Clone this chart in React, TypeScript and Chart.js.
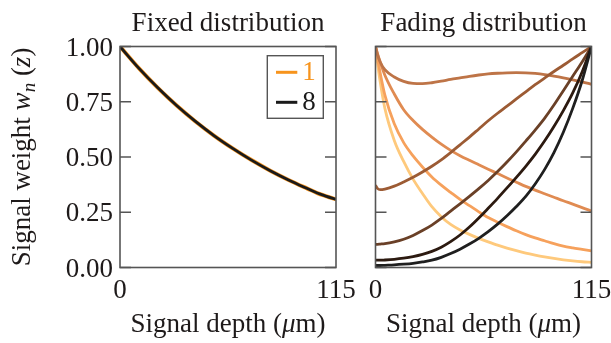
import React, { useEffect, useRef } from 'react';
import { Chart, registerables } from 'chart.js';

Chart.register(...registerables);

const FONT = '"Liberation Serif", "Times New Roman", serif';
const TEXT = '#1e1a1a';
const FRAME = '#555555';
const FS = 27;

// ---- data ----
const yTicks = [0, 0.25, 0.5, 0.75, 1];
const yTickLabels = ['0.00', '0.25', '0.50', '0.75', '1.00'];
const xTicks = [0, 115];
const xTickLabels = ['0', '115'];

const fixedDepth = [0, 10, 20, 30, 40, 50, 60, 70, 80, 90, 100, 105, 110, 115];
const fixedWeight1 = [1, 0.902, 0.814, 0.734, 0.662, 0.597, 0.539, 0.486, 0.438, 0.395, 0.356, 0.337, 0.322, 0.308];
const fixedWeight8 = [1, 0.902, 0.814, 0.734, 0.662, 0.597, 0.539, 0.486, 0.438, 0.395, 0.356, 0.337, 0.322, 0.308];
const fixedLabels = ['1', '8'];
const fixedColors = ['#f7941d', '#1a1a1a'];

const fadingDepth = [0, 1, 2.5, 5, 10, 15, 20, 25, 30, 35, 40, 45, 50, 55, 60, 65, 70, 75, 80, 85, 90, 95, 100, 105, 110, 115];
const fading1 = [1, 0.93, 0.84, 0.72, 0.575, 0.48, 0.4, 0.335, 0.275, 0.23, 0.195, 0.17, 0.15, 0.132, 0.116, 0.101, 0.088, 0.076, 0.065, 0.056, 0.048, 0.041, 0.035, 0.03, 0.026, 0.023];
const fading2 = [1, 0.95, 0.88, 0.78, 0.65, 0.565, 0.505, 0.455, 0.41, 0.373, 0.34, 0.308, 0.28, 0.252, 0.226, 0.205, 0.185, 0.166, 0.149, 0.134, 0.121, 0.108, 0.097, 0.089, 0.082, 0.075];
const fading3 = [1, 0.97, 0.93, 0.87, 0.785, 0.714, 0.665, 0.625, 0.59, 0.558, 0.53, 0.506, 0.485, 0.465, 0.445, 0.425, 0.405, 0.386, 0.367, 0.35, 0.334, 0.318, 0.302, 0.287, 0.271, 0.256];
const fading4 = [1, 0.965, 0.93, 0.895, 0.862, 0.842, 0.833, 0.832, 0.836, 0.843, 0.851, 0.858, 0.865, 0.871, 0.876, 0.879, 0.881, 0.882, 0.881, 0.878, 0.873, 0.866, 0.858, 0.849, 0.84, 0.829];
const fading5 = [0.372, 0.358, 0.352, 0.355, 0.368, 0.387, 0.408, 0.432, 0.458, 0.487, 0.52, 0.555, 0.59, 0.627, 0.664, 0.698, 0.73, 0.763, 0.795, 0.827, 0.857, 0.887, 0.915, 0.944, 0.972, 1];
const fading6 = [0.105, 0.105, 0.106, 0.108, 0.116, 0.128, 0.145, 0.167, 0.192, 0.222, 0.255, 0.288, 0.322, 0.357, 0.394, 0.434, 0.477, 0.523, 0.572, 0.622, 0.675, 0.735, 0.8, 0.865, 0.93, 1];
const fading7 = [0.033, 0.033, 0.033, 0.034, 0.037, 0.042, 0.049, 0.059, 0.073, 0.092, 0.117, 0.147, 0.183, 0.224, 0.268, 0.313, 0.36, 0.408, 0.458, 0.512, 0.572, 0.638, 0.71, 0.79, 0.885, 1];
const fading8 = [0.009, 0.009, 0.009, 0.01, 0.012, 0.015, 0.019, 0.025, 0.033, 0.046, 0.063, 0.083, 0.106, 0.132, 0.162, 0.196, 0.234, 0.276, 0.322, 0.378, 0.443, 0.52, 0.612, 0.72, 0.845, 1];
const fadingSeries = [fading1, fading2, fading3, fading4, fading5, fading6, fading7, fading8];
const fadingColors = ['#fec97c', '#f6a15c', '#e08b52', '#be7447', '#9c5b34', '#6a4027', '#2c1a10', '#1f1f1f'];

const xTitle = ['Signal depth (', 'μ', 'm)'];
const yTitle = ['Signal weight ', 'w', 'n', ' (', 'z', ')'];

type PanelCfg = {
  title: string;
  yLabels: boolean;
  yTitle: boolean;
  legend: boolean;
};

function decorPlugin(cfg: PanelCfg) {
  return {
    id: 'decor',
    afterDraw(chart: any) {
      const ctx = chart.ctx as CanvasRenderingContext2D;
      const a = chart.chartArea;
      const xs = chart.scales.x;
      const ys = chart.scales.y;
      ctx.save();
      // frame
      ctx.strokeStyle = FRAME;
      ctx.lineWidth = 1.6;
      ctx.strokeRect(a.left, a.top, a.right - a.left, a.bottom - a.top);
      // inward ticks on left and right
      ctx.beginPath();
      for (const v of yTicks) {
        const py = ys.getPixelForValue(v);
        ctx.moveTo(a.left, py);
        ctx.lineTo(a.left + 11, py);
        ctx.moveTo(a.right, py);
        ctx.lineTo(a.right - 11, py);
      }
      ctx.stroke();

      ctx.fillStyle = TEXT;
      ctx.font = `${FS}px ${FONT}`;
      // title
      ctx.textAlign = 'center';
      ctx.textBaseline = 'alphabetic';
      ctx.fillText(cfg.title, (a.left + a.right) / 2, 31);
      // x tick labels
      xTicks.forEach((v, i) => {
        ctx.fillText(xTickLabels[i], xs.getPixelForValue(v), 298);
      });
      // y tick labels
      if (cfg.yLabels) {
        ctx.textAlign = 'right';
        yTicks.forEach((v, i) => {
          ctx.fillText(yTickLabels[i], a.left - 7, ys.getPixelForValue(v) + 9);
        });
      }
      // x title
      ctx.textAlign = 'left';
      const segX = [
        { t: xTitle[0], f: `${FS}px ${FONT}` },
        { t: xTitle[1], f: `italic ${FS}px ${FONT}` },
        { t: xTitle[2], f: `${FS}px ${FONT}` },
      ];
      let tw = 0;
      for (const s of segX) { ctx.font = s.f; tw += ctx.measureText(s.t).width; }
      let cx = (a.left + a.right) / 2 - tw / 2;
      for (const s of segX) { ctx.font = s.f; ctx.fillText(s.t, cx, 332); cx += ctx.measureText(s.t).width; }

      // y title
      if (cfg.yTitle) {
        const segY = [
          { t: yTitle[0], f: `${FS}px ${FONT}`, dy: 0 },
          { t: yTitle[1], f: `italic ${FS}px ${FONT}`, dy: 0 },
          { t: yTitle[2], f: `italic 19px ${FONT}`, dy: 5 },
          { t: yTitle[3], f: `${FS}px ${FONT}`, dy: 0 },
          { t: yTitle[4], f: `italic ${FS}px ${FONT}`, dy: 0 },
          { t: yTitle[5], f: `${FS}px ${FONT}`, dy: 0 },
        ];
        let w = 0;
        for (const s of segY) { ctx.font = s.f; w += ctx.measureText(s.t).width; }
        ctx.save();
        ctx.translate(30, (a.top + a.bottom) / 2);
        ctx.rotate(-Math.PI / 2);
        let px = -w / 2;
        for (const s of segY) { ctx.font = s.f; ctx.fillText(s.t, px, s.dy); px += ctx.measureText(s.t).width; }
        ctx.restore();
      }

      // legend
      if (cfg.legend) {
        const bx = a.right - 12.7 - 56;
        const by = a.top + 9.2;
        ctx.strokeStyle = FRAME;
        ctx.lineWidth = 1.4;
        ctx.strokeRect(bx, by, 56, 62.6);
        ctx.font = `${FS}px ${FONT}`;
        ctx.textAlign = 'left';
        chart.data.datasets.forEach((ds: any, i: number) => {
          const ly = by + 16.6 + i * 30;
          ctx.strokeStyle = ds.borderColor;
          ctx.lineWidth = 3;
          ctx.beginPath();
          ctx.moveTo(bx + 8.7, ly);
          ctx.lineTo(bx + 30, ly);
          ctx.stroke();
          ctx.fillStyle = ds.borderColor;
          ctx.fillText(ds.label, bx + 35, ly + 7.5);
        });
      }
      ctx.restore();
    },
  };
}

function baseOptions(padding: any) {
  return {
    responsive: false,
    animation: false as const,
    devicePixelRatio: 1,
    layout: { padding },
    plugins: { legend: { display: false }, tooltip: { enabled: false } },
    elements: { point: { radius: 0 }, line: { cubicInterpolationMode: 'monotone' as const } },
    scales: {
      x: { type: 'linear' as const, min: 0, max: 115, display: false },
      y: { type: 'linear' as const, min: 0, max: 1, display: false },
    },
  };
}

export default function App() {
  const refA = useRef<HTMLCanvasElement | null>(null);
  const refB = useRef<HTMLCanvasElement | null>(null);

  useEffect(() => {
    const chartA = new Chart(refA.current as HTMLCanvasElement, {
      type: 'line',
      data: {
        datasets: [fixedWeight1, fixedWeight8].map((vals, i) => ({
          label: fixedLabels[i],
          data: fixedDepth.map((x, j) => ({ x, y: vals[j] })),
          borderColor: fixedColors[i],
          borderWidth: i === 0 ? 4 : 2.8,
          order: i === 0 ? 2 : 1,
          fill: false,
          pointRadius: 0,
        })),
      },
      options: baseOptions({ left: 120, right: 275, top: 46.5, bottom: 75.5 }) as any,
      plugins: [decorPlugin({ title: 'Fixed distribution', yLabels: true, yTitle: true, legend: true })],
    });
    const chartB = new Chart(refB.current as HTMLCanvasElement, {
      type: 'line',
      data: {
        datasets: fadingSeries.map((vals, i) => ({
          label: String(i + 1),
          data: fadingDepth.map((x, j) => ({ x, y: vals[j] })),
          borderColor: fadingColors[i],
          borderWidth: 2.8,
          order: 8 - i,
          fill: false,
          pointRadius: 0,
        })),
      },
      options: baseOptions({ left: 375.5, right: 19.5, top: 46.5, bottom: 75.5 }) as any,
      plugins: [decorPlugin({ title: 'Fading distribution', yLabels: false, yTitle: false, legend: false })],
    });
    return () => {
      chartA.destroy();
      chartB.destroy();
    };
  }, []);

  const cstyle: React.CSSProperties = { position: 'absolute', left: 0, top: 0, width: 611, height: 343 };
  return (
    <div style={{ position: 'fixed', left: 0, top: 0, width: 611, height: 343, background: '#fff' }}>
      <canvas ref={refA} width={611} height={343} style={cstyle} />
      <canvas ref={refB} width={611} height={343} style={cstyle} />
    </div>
  );
}
